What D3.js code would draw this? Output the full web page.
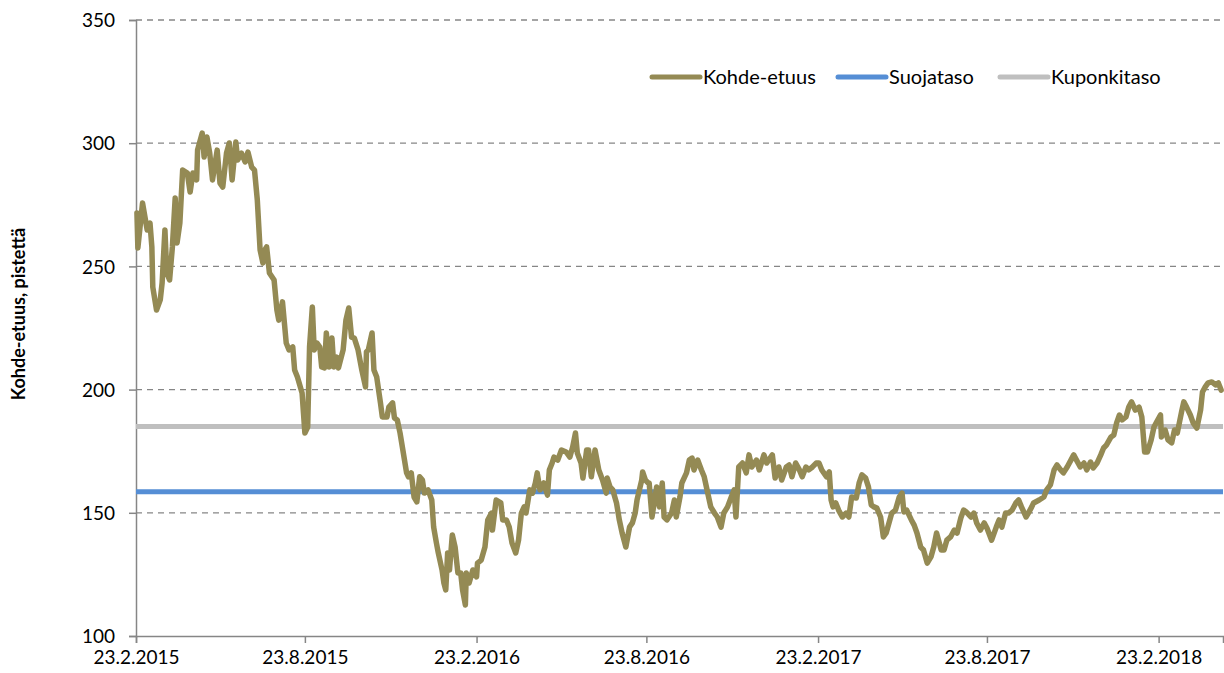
<!DOCTYPE html>
<html lang="fi">
<head>
<meta charset="utf-8">
<title>Kohde-etuus</title>
<script src="https://d3js.org/d3.v7.min.js"></script>
<style>
  body { margin: 0; background: #fff; }
  text { font-family: Lato, "Open Sans", sans-serif; fill: #000; }
</style>
</head>
<body>
<script>
// data: days after 23.2.2015 and index level
var startDate = new Date(2015, 1, 23);
var endDate = new Date(2018, 4, 3);
var days = [1,2,7,12,15,17,18,22,26,28,31,33,36,39,42,44,47,50,55,58,61,65,66,71,73,76,79,82,87,90,93,97,100,103,107,109,113,117,120,124,127,130,133,136,138,140,143,148,151,153,157,161,164,
  168,170,173,178,181,184,186,189,191,194,197,199,202,204,207,210,212,215,217,222,225,228,231,234,238,242,246,247,249,253,255,258,262,264,269,271,275,277,280,283,286,290,292,295,298,301,304,307,309,313,317,319,322,324,328,330,332,334,336,339,342,345,348,350,353,354,
  357,361,365,366,370,374,377,381,382,386,391,393,397,400,403,407,410,413,416,418,422,425,428,430,433,437,441,443,446,448,452,456,461,465,468,471,473,477,479,483,485,488,492,496,500,504,505,508,511,515,518,521,525,529,532,535,537,542,543,546,549,
  550,553,558,561,564,566,569,574,577,579,583,585,590,593,596,598,602,606,609,612,616,620,623,627,630,634,638,641,643,646,650,654,657,660,665,668,673,676,682,685,689,692,697,700,703,707,711,714,718,721,725,729,732,735,740,743,745,747,750,753,757,761,
  764,767,772,775,778,782,785,788,791,794,798,801,804,807,810,814,818,821,823,826,831,834,837,841,844,848,852,855,858,863,866,869,873,877,880,884,887,890,895,898,901,905,909,912,917,922,925,928,932,935,939,943,946,949,954,957,960,
  962,968,973,976,980,984,987,991,994,998,1002,1005,1008,1012,1016,1019,1023,1026,1030,1034,1037,1040,1045,1048,1051,1054,1057,1061,1064,1067,1071,1075,1078,1081,1084,1088,1091,1094,1098,1099,1103,1106,1110,1113,1116,1121,1123,1126,1130,1133,1137,1141,1143,1146,1149,1153,1157,1160,1163];
var kohde = [271.7,257.5,275.7,264.8,267.6,257.9,241.6,232.3,236.4,243.3,264.8,247.3,244.5,257.9,277.8,259.5,267.6,289.1,287.9,280.2,287.9,285.1,297.2,304.1,294.4,302.5,296.0,285.1,297.2,283.8,282.2,296.0,300.1,285.1,300.5,293.2,296.0,292.4,296.4,290.3,289.1,277.0,256.7,251.4,256.7,257.9,247.3,244.5,232.3,228.2,235.6,218.9,216.1,
  217.3,208.0,205.1,198.6,182.4,184.8,217.3,233.5,216.1,218.9,217.3,209.2,208.8,223.0,209.2,220.9,209.2,213.2,208.8,216.1,228.2,233.1,221.3,220.9,216.1,208.0,201.1,215.3,216.1,223.0,208.0,205.1,194.6,188.9,188.9,192.9,194.6,188.5,187.7,182.4,175.5,166.2,164.6,166.2,156.4,154.4,164.6,163.3,158.0,159.3,155.2,144.2,137.7,133.7,126.8,121.5,118.7,133.7,126.8,141.0,136.1,125.6,125.6,118.7,112.6,125.6,
  121.5,126.8,124.0,129.6,130.8,136.1,147.1,149.9,143.0,155.2,154.0,147.1,147.1,144.2,137.7,133.7,138.9,149.9,152.4,149.9,159.3,158.0,162.1,166.2,159.3,162.1,157.2,167.4,170.2,172.6,171.4,175.5,174.7,172.6,176.7,182.4,174.3,170.2,164.1,175.5,175.5,164.6,175.5,167.4,163.3,158.0,164.1,160.5,159.3,154.0,147.1,141.8,136.1,144.2,145.9,149.9,155.2,163.3,166.6,163.3,162.1,
  162.1,148.3,160.5,152.4,162.1,148.3,147.1,149.9,155.2,148.3,156.4,162.1,166.2,171.4,172.2,167.4,171.4,167.4,164.6,159.3,152.4,149.9,148.3,144.2,149.9,152.4,156.4,159.3,148.3,168.6,170.2,166.2,173.5,168.6,171.4,167.4,173.5,170.2,173.5,164.1,168.6,163.3,168.6,169.4,164.6,170.2,167.4,164.6,168.6,167.4,168.6,170.2,170.2,167.4,164.6,166.6,155.2,152.4,154.0,151.1,148.3,149.9,
  148.3,156.4,156.0,162.1,165.4,164.1,160.5,153.2,152.4,151.9,148.3,140.2,141.8,145.9,149.9,151.1,156.4,158.0,150.3,151.1,147.1,145.0,141.8,136.1,134.9,129.6,132.1,136.1,141.8,134.9,134.9,138.9,140.2,143.0,141.8,147.9,151.1,150.3,148.3,149.9,145.9,143.0,145.9,143.8,138.9,144.2,147.1,144.2,149.9,149.9,151.1,154.0,155.2,152.4,148.3,150.3,152.4,
  154.0,155.2,156.4,159.3,161.3,167.4,169.4,167.4,166.2,168.6,171.4,173.5,171.4,168.6,170.2,167.4,170.6,168.2,170.2,173.5,176.3,177.5,180.8,181.6,186.5,189.7,187.7,188.9,192.9,195.0,191.7,192.9,188.9,174.7,174.7,179.6,184.8,186.9,189.7,180.8,183.6,179.6,178.4,183.6,182.4,191.7,195.0,192.9,189.7,186.5,184.4,191.7,199.0,201.1,202.7,203.1,201.9,202.7,199.8];
var suojataso = 158.5;
var kuponkitaso = 185;
var yTicks = [100, 150, 200, 250, 300, 350];
var xTickLabels = ["23.2.2015", "23.8.2015", "23.2.2016", "23.8.2016", "23.2.2017", "23.8.2017", "23.2.2018"];
var seriesNames = ["Kohde-etuus", "Suojataso", "Kuponkitaso"];
var colors = ["#948a54", "#558ed5", "#bfbfbf"];

var W = 1224, H = 673;
var mLeft = 136, mRight = 1223, mTop = 20, mBottom = 636;

var svg = d3.select("body").append("svg")
  .attr("width", W)
  .attr("height", H);

var parseFi = d3.timeParse("%d.%m.%Y");
var x = d3.scaleTime().domain([startDate, endDate]).range([mLeft, mRight]);
var y = d3.scaleLinear().domain([100, 350]).range([mBottom, mTop]);

// gridlines
svg.append("g").selectAll("line")
  .data(yTicks.slice(1))
  .enter().append("line")
  .attr("x1", mLeft).attr("x2", mRight)
  .attr("y1", d => y(d)).attr("y2", d => y(d))
  .attr("stroke", "#868686")
  .attr("stroke-width", 1.3)
  .attr("stroke-dasharray", "6,5");

// y axis
var yAxis = svg.append("g")
  .attr("transform", "translate(" + mLeft + ",0)")
  .call(d3.axisLeft(y).tickValues(yTicks).tickSize(7).tickPadding(14));
yAxis.select(".domain").attr("stroke", "#868686").attr("stroke-width", 1.5);
yAxis.selectAll(".tick line").attr("stroke", "#868686").attr("stroke-width", 1.5);
yAxis.selectAll("text").style("font-size", "19px").attr("dy", "0.35em");

// x axis
var xAxis = svg.append("g")
  .attr("transform", "translate(0," + mBottom + ")")
  .call(d3.axisBottom(x).tickValues(xTickLabels.map(parseFi)).tickFormat(d3.timeFormat("%-d.%-m.%Y")).tickSize(7).tickPadding(8));
xAxis.select(".domain").attr("stroke", "#868686").attr("stroke-width", 1.5);
xAxis.selectAll(".tick line").attr("stroke", "#868686").attr("stroke-width", 1.5);
xAxis.selectAll("text").style("font-size", "19px");

// y title
svg.append("text")
  .attr("transform", "translate(25,314) rotate(-90)")
  .attr("text-anchor", "middle")
  .style("font-size", "18px")
  .style("font-weight", "bold")
  .text("Kohde-etuus, pistettä");

// level lines
[suojataso, kuponkitaso].forEach(function(v, i) {
  svg.append("line")
    .attr("x1", mLeft).attr("x2", mRight)
    .attr("y1", y(v)).attr("y2", y(v))
    .attr("stroke", colors[i + 1])
    .attr("stroke-width", 5);
});

// underlying
var pts = days.map((d, i) => ({ date: d3.timeDay.offset(startDate, d), v: kohde[i] }));
svg.append("path")
  .datum(pts)
  .attr("fill", "none")
  .attr("stroke", colors[0])
  .attr("stroke-width", 5.5)
  .attr("stroke-linejoin", "round")
  .attr("stroke-linecap", "round")
  .attr("d", d3.line().x(d => x(d.date)).y(d => y(d.v)));

// legend
var legX = [652, 838, 1000];
var leg = svg.append("g").selectAll("g")
  .data(seriesNames)
  .enter().append("g")
  .attr("transform", (d, i) => "translate(" + legX[i] + ",77)");
leg.append("line")
  .attr("x1", 0).attr("x2", 48)
  .attr("stroke", (d, i) => colors[i])
  .attr("stroke-width", 5)
  .attr("stroke-linecap", "round");
leg.append("text")
  .attr("x", 51).attr("dy", "0.35em")
  .style("font-size", "20px")
  .text(d => d);
</script>
</body>
</html>
